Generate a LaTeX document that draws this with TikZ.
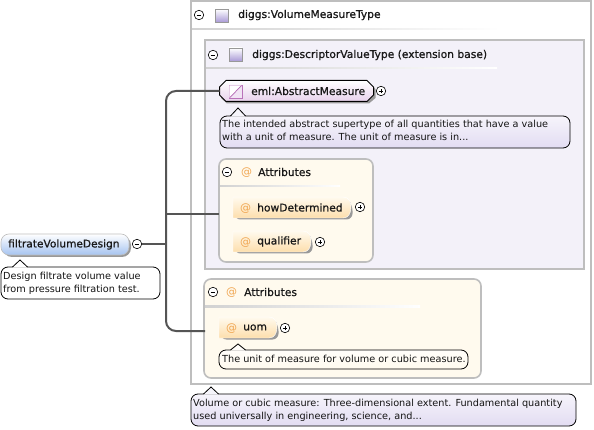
\documentclass[tikz,border=0pt]{standalone}
\usepackage{fontspec}
\setmainfont{DejaVu Sans}
\newfontfamily\semib[FakeBold=0.8]{DejaVu Sans}
\definecolor{boxgray}{RGB}{190,190,190}
\definecolor{conn}{RGB}{85,85,85}
\definecolor{at}{RGB}{240,165,80}
\definecolor{descfill}{RGB}{243,241,249}
\definecolor{tipfill}{RGB}{226,220,242}
\definecolor{cream}{RGB}{255,250,238}
\definecolor{peach}{RGB}{253,222,172}
\definecolor{lilac}{RGB}{232,210,236}
\definecolor{icon}{RGB}{170,155,215}
\definecolor{rootblue}{RGB}{165,195,240}
\tikzset{
 x=1pt,y=-1pt,
 frame/.style={draw=boxgray,line width=1.6pt},
 lbl/.style={font=\fontsize{10.7}{12}\selectfont\semib,anchor=west,inner sep=0pt,text=black!90},
 atsign/.style={anchor=west,inner sep=0pt,text=at,font=\fontsize{11}{12}\selectfont},
 tip/.style={font=\fontsize{9.7}{13}\selectfont,anchor=north west,inner sep=0pt,align=left,text=black!92},
 tipbox/.style={draw=black,line width=.8pt,rounded corners=7pt},
 pm/.style={circle,draw=black,fill=white,line width=.6pt,minimum size=9.5pt,inner sep=0pt},
 sep/.style={left color=boxgray!70,right color=white,draw=none},
 conline/.style={draw=conn,line width=2pt,rounded corners=10pt},
 typeicon/.style={draw=boxgray!80!black,top color=white,bottom color=icon,line width=.5pt},
}
\newcommand{\pmsign}[2]{\draw[line width=.6pt,black] ([xshift=-2.3pt]#1.center) -- ([xshift=2.3pt]#1.center); \if#2+\draw[line width=.6pt,black] ([yshift=-2.3pt]#1.center) -- ([yshift=2.3pt]#1.center);\fi}
\newcommand{\tippath}[7][white]{% fill, x1,y1,x2,y2,px,py
 \path[tipbox,top color=#1!30!white,bottom color=#1] (#2,#3) rectangle (#4,#5);
 \fill[#1!30!white] (#6-7.5,#3+.6) -- (#6,#7) -- (#6+7.5,#3+.6) -- cycle;
 \draw[line width=.8pt,black,line join=miter] (#6-7.5,#3) -- (#6,#7) -- (#6+7.5,#3);}
\newcommand{\attrib}[6]{% name,x1,y1,x2,y2,label
 \fill[black!40,rounded corners=6pt] (#2+1.5,#3+1.5) -- (#4-4,#3+1.5) -- (#4+1.5,#3+8) -- (#4+1.5,#5+1.5) -- (#2+1.5,#5+1.5) -- cycle;
 \draw[draw=white,top color=cream,bottom color=peach,line width=.4pt] (#2,#3) -- (#4-8,#3) .. controls (#4-2,#3) and (#4,#3+5) .. (#4,#3+10) .. controls (#4,#5-4) and (#4-3,#5) .. (#4-8,#5) -- (#2,#5) -- cycle;
 \node[atsign] at (#2+7,#3+11.5) {@};
 \node[lbl] (#1) at (#2+24,#3+10.5) {#6};
}
\begin{document}
\begin{tikzpicture}
\useasboundingbox (0,0) rectangle (594,430);
\fill[white] (0,0) rectangle (594,430);

% outer type box
\draw[frame,fill=white] (191,1) rectangle (591,384);
\fill[sep] (192,28.5) rectangle (500,30);
\node[pm] (m1) at (199,15) {}; \pmsign{m1}{-}
\draw[typeicon] (215,9) rectangle (228,22);
\node[lbl] (t1) at (238,15) {diggs:VolumeMeasureType};

% descriptor
\draw[frame,fill=descfill] (205,40) rectangle (584,269);
\fill[sep] (206,67.5) rectangle (497,69);
\node[pm] (m2) at (213,55) {}; \pmsign{m2}{-}
\draw[typeicon] (229,48) rectangle (242,61);
\node[lbl] (t2) at (252,55) {diggs:DescriptorValueType (extension base)};

% abstract measure
\coordinate (amw) at (219.5,91);
\fill[black!40] (227,83) -- (369,83) -- (375.5,89) -- (375.5,98) -- (369,103.5) -- (227,103.5) -- (221,98) -- (221,89) -- cycle;
\draw[draw=black,line width=1pt,top color=white,bottom color=lilac] (226,80.5) -- (367,80.5) -- (373.5,87) -- (373.5,95) -- (367,101.5) -- (226,101.5) -- (219.5,95) -- (219.5,87) -- cycle;
\draw[violet!55,fill=lilac!60,line width=.5pt] (229,85) rectangle (242,98);
\fill[white] (229.4,85.4) -- (241.6,85.4) -- (229.4,97.6) -- cycle;
\draw[violet!60,line width=.7pt] (230,97.5) -- (241.5,85.5);
\node[lbl] (am) at (251,91) {eml:AbstractMeasure};
\node[pm] (p1) at (381,91) {}; \pmsign{p1}{+}
\tippath[tipfill]{220}{116}{570}{148}{238}{108}
\node[tip] at (222,120) {The intended abstract supertype of all quantities that have a value\\with a unit of measure. The unit of measure is in...};

% attributes 1
\draw[frame,rounded corners=7pt,fill=cream] (219,159) rectangle (373,262);
\fill[sep] (220,185.5) rectangle (340,187);
\node[pm] (m3) at (227,172) {}; \pmsign{m3}{-}
\node[atsign] at (241,173) {@};
\node[lbl] (t3) at (258,172) {Attributes};
\attrib{hd}{233}{197}{351}{218}{howDetermined}
\node[pm] (p2) at (360,207) {}; \pmsign{p2}{+}
\attrib{ql}{233}{231}{311}{252}{qualifier}
\node[pm] (p3) at (320,242) {}; \pmsign{p3}{+}
\coordinate (a1w) at (219,214);

% attributes 2
\draw[frame,rounded corners=7pt,fill=cream] (204,279) rectangle (481,378);
\fill[sep] (205,305.5) rectangle (420,307);
\node[pm] (m4) at (213,292) {}; \pmsign{m4}{-}
\node[atsign] at (226,293) {@};
\node[lbl] (t4) at (244,292) {Attributes};
\attrib{um}{219}{317}{277}{338}{uom}
\node[pm] (p4) at (285,328) {}; \pmsign{p4}{+}
\tippath[cream]{219}{350}{468}{369}{238}{344}
\node[tip] at (222,354.5) {The unit of measure for volume or cubic measure.};
\coordinate (a2w) at (205,331);

% bottom tooltip
\tippath[tipfill]{191}{394}{576}{426}{211}{387}
\node[tip] at (193,398.5) {Volume or cubic measure: Three-dimensional extent. Fundamental quantity\\used universally in engineering, science, and...};

% root element
\fill[black!40,rounded corners=9pt] (3,236) rectangle (131,257);
\node[draw=boxgray,line width=.6pt,rounded corners=8pt,minimum width=128pt,minimum height=21pt,inner sep=0pt,
  top color=white,bottom color=rootblue] (root) at (65,244.5) {};
\node[lbl,font=\fontsize{10.6}{12}\selectfont\semib] at (8,244.5) {filtrateVolumeDesign};
\node[pm] (m0) at (137,244) {}; \pmsign{m0}{-}
\tippath[white]{1}{267}{160}{299}{20}{260}
\node[tip] at (3,271.5) {Design filtrate volume value\\from pressure filtration test.};

% connectors
\coordinate (jn) at (166,244);
\coordinate (jm) at (166,214);
\draw[conline,line cap=butt] (m0.east) -- (jn);
\draw[conline] (amw) -- (166,91) -- (jm);
\draw[conline] (jm) -- (a1w);
\draw[conline] (jm) -- (166,331) -- (a2w);
\end{tikzpicture}
\end{document}
